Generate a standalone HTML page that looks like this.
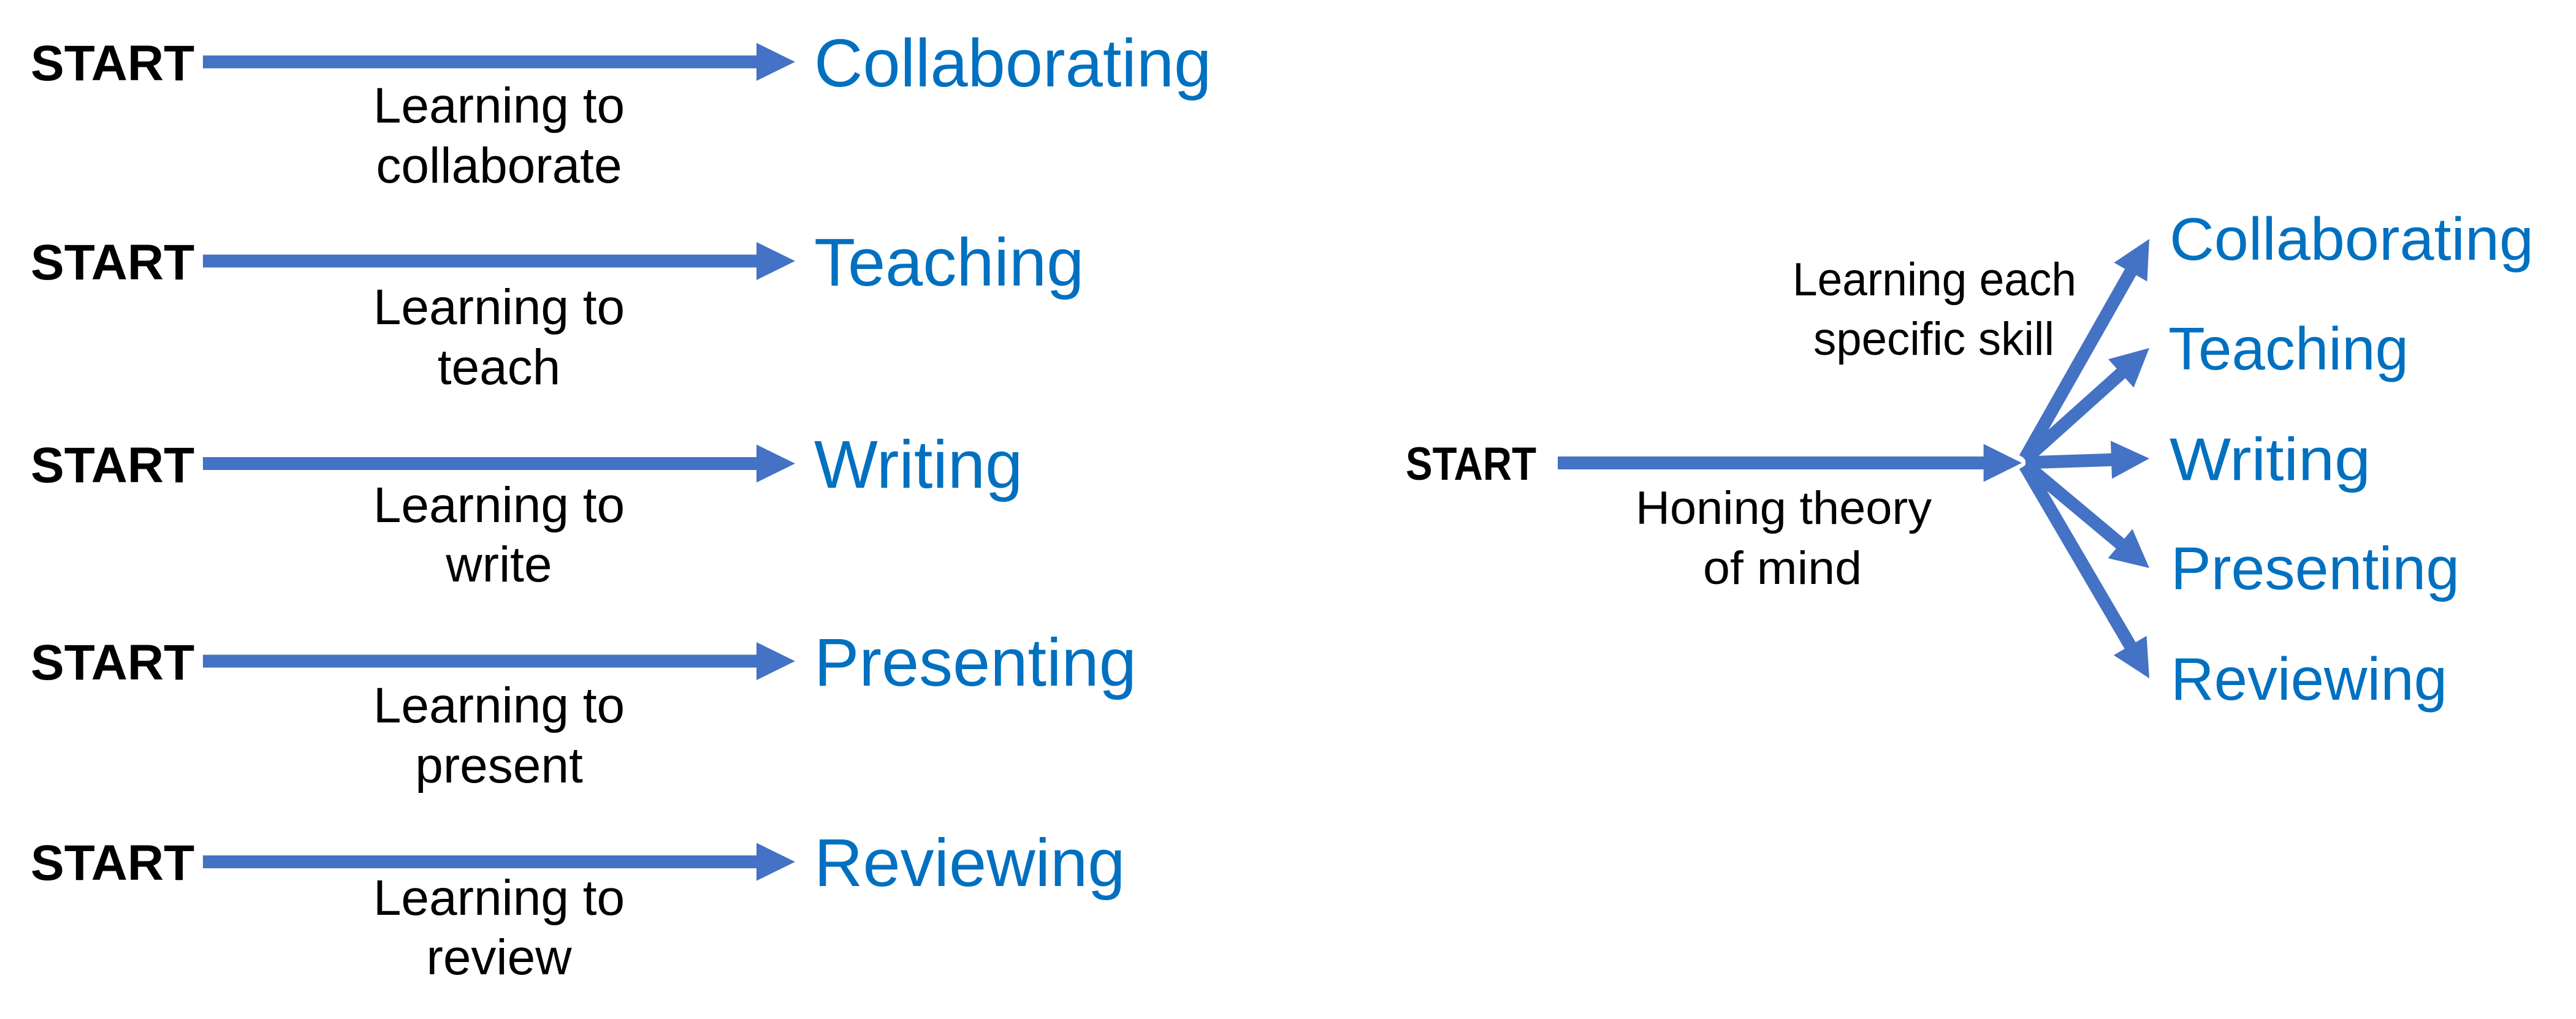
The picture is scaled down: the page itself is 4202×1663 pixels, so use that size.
<!DOCTYPE html>
<html>
<head>
<meta charset="utf-8">
<style>
  html, body { margin: 0; padding: 0; background: #ffffff; }
  svg { display: block; }
  .st { font-family: "Liberation Sans", Arial, sans-serif; font-weight: bold; fill: #000; }
  .lb { font-family: "Liberation Sans", Arial, sans-serif; fill: #000; }
  .bl { font-family: "Liberation Sans", Arial, sans-serif; fill: #0070C0; }
</style>
</head>
<body>
<svg width="4202" height="1663" viewBox="0 0 4202 1663" xmlns="http://www.w3.org/2000/svg">
  <rect x="0" y="0" width="4202" height="1663" fill="#ffffff"/>

  <!-- LEFT DIAGRAM -->
  <g fill="#4472C4">
    <!-- row 1 -->
    <rect x="331" y="90.5" width="906" height="21"/>
    <polygon points="1234,70 1297,101 1234,132"/>
    <!-- row 2 -->
    <rect x="331" y="415.5" width="906" height="21"/>
    <polygon points="1234,395 1297,426 1234,457"/>
    <!-- row 3 -->
    <rect x="331" y="746" width="906" height="21"/>
    <polygon points="1234,725.5 1297,756.5 1234,787.5"/>
    <!-- row 4 -->
    <rect x="331" y="1068.5" width="906" height="21"/>
    <polygon points="1234,1048 1297,1079 1234,1110"/>
    <!-- row 5 -->
    <rect x="331" y="1396" width="906" height="21"/>
    <polygon points="1234,1375.5 1297,1406.5 1234,1437.5"/>
  </g>

  <g class="st" font-size="82">
    <text x="50" y="131">START</text>
    <text x="50" y="456">START</text>
    <text x="50" y="787">START</text>
    <text x="50" y="1109">START</text>
    <text x="50" y="1436">START</text>
  </g>

  <g class="lb" font-size="82" text-anchor="middle">
    <text x="814" y="200">Learning to</text>
    <text x="814" y="298">collaborate</text>
    <text x="814" y="529">Learning to</text>
    <text x="814" y="627">teach</text>
    <text x="814" y="852">Learning to</text>
    <text x="814" y="949">write</text>
    <text x="814" y="1179">Learning to</text>
    <text x="814" y="1277">present</text>
    <text x="814" y="1493">Learning to</text>
    <text x="814" y="1590">review</text>
  </g>

  <g class="bl" font-size="110">
    <text x="1328" y="141">Collaborating</text>
    <text x="1328" y="466">Teaching</text>
    <text x="1328" y="796">Writing</text>
    <text x="1328" y="1119">Presenting</text>
    <text x="1328" y="1446">Reviewing</text>
  </g>

  <!-- RIGHT DIAGRAM -->
  <g fill="#4472C4">
    <rect x="2541" y="745" width="697" height="21"/>
    <polygon points="3235.6,724.5 3298,755.5 3235.6,786.5"/>
  </g>

  <g stroke="#4472C4" stroke-width="21" stroke-linecap="butt" fill="none">
    <line x1="3303" y1="748" x2="3476.4" y2="442.2"/>
    <line x1="3303" y1="750" x2="3461.3" y2="608.1"/>
    <line x1="3304" y1="755" x2="3446" y2="750.3"/>
    <line x1="3304" y1="758" x2="3460" y2="888.5"/>
    <line x1="3303" y1="760" x2="3475.7" y2="1055.2"/>
  </g>
  <g fill="#4472C4">
    <polygon points="3506,390 3502.4,459.2 3448.4,428.6"/>
    <polygon points="3506,568 3480.5,632.5 3439.1,586.3"/>
    <polygon points="3506,748.3 3445.0,781.4 3443.0,719.4"/>
    <polygon points="3506,927 3438.6,911.0 3478.4,863.4"/>
    <polygon points="3506,1107 3447.9,1069.2 3501.5,1037.8"/>
  </g>

  <text class="st" x="2293" y="783" font-size="76" textLength="213" lengthAdjust="spacingAndGlyphs">START</text>

  <g class="lb" font-size="76">
    <text x="2668" y="855" textLength="483" lengthAdjust="spacingAndGlyphs">Honing theory</text>
    <text x="2778" y="953" textLength="259" lengthAdjust="spacingAndGlyphs">of mind</text>
    <text x="2924" y="482" textLength="463" lengthAdjust="spacingAndGlyphs">Learning each</text>
    <text x="2958" y="579" textLength="393" lengthAdjust="spacingAndGlyphs">specific skill</text>
  </g>

  <g class="bl" font-size="98">
    <text x="3539" y="424" textLength="594" lengthAdjust="spacingAndGlyphs">Collaborating</text>
    <text x="3537" y="603" textLength="392" lengthAdjust="spacingAndGlyphs">Teaching</text>
    <text x="3539" y="783.5" textLength="328" lengthAdjust="spacingAndGlyphs">Writing</text>
    <text x="3541" y="961.6" textLength="471" lengthAdjust="spacingAndGlyphs">Presenting</text>
    <text x="3541" y="1142" textLength="451" lengthAdjust="spacingAndGlyphs">Reviewing</text>
  </g>
</svg>
</body>
</html>
